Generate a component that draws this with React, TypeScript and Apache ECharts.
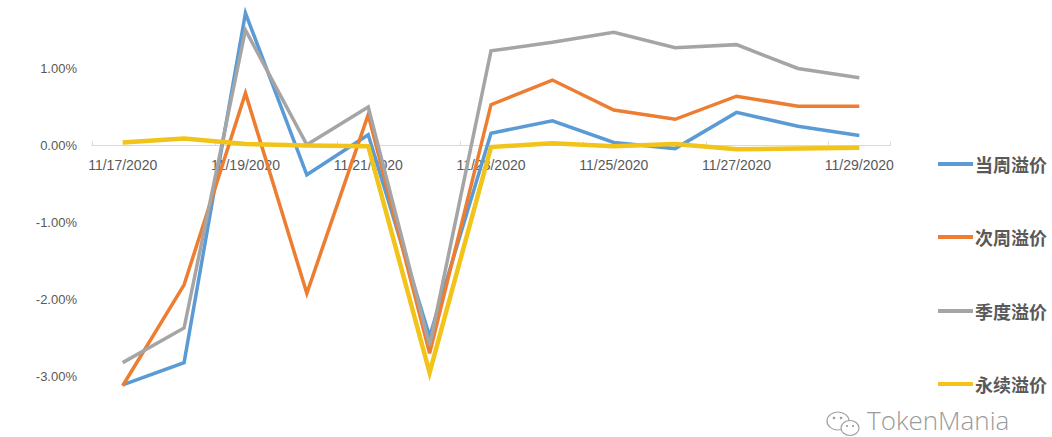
import React, { useEffect, useRef } from "react";
import * as echarts from "echarts";

const categories = [
  "11/17/2020", "11/18/2020", "11/19/2020", "11/20/2020", "11/21/2020", "11/22/2020", "11/23/2020",
  "11/24/2020", "11/25/2020", "11/26/2020", "11/27/2020", "11/28/2020", "11/29/2020",
];
const seriesNames = ["当周溢价", "次周溢价", "季度溢价", "永续溢价"];
const currentWeek = [-3.11, -2.82, 1.72, -0.38, 0.14, -2.48, 0.16, 0.32, 0.04, -0.04, 0.43, 0.25, 0.13];
const nextWeek = [-3.12, -1.81, 0.68, -1.92, 0.40, -2.70, 0.53, 0.85, 0.46, 0.34, 0.64, 0.51, 0.51];
const quarterly = [-2.82, -2.37, 1.50, 0.01, 0.50, -2.60, 1.23, 1.34, 1.47, 1.27, 1.31, 1.00, 0.88];
const perpetual = [0.04, 0.09, 0.02, 0.00, -0.01, -2.95, -0.02, 0.03, -0.01, 0.02, -0.05, -0.04, -0.03];
const colors = ["#5B9BD5", "#ED7D31", "#A5A5A5", "#F2C318"];
const widths = [3.5, 3.5, 3.5, 4.5];

export default function App() {
  const ref = useRef<HTMLDivElement>(null);
  useEffect(() => {
    if (!ref.current) return;
    const chart = echarts.init(ref.current, undefined, { renderer: "svg" });
    const data = [currentWeek, nextWeek, quarterly, perpetual];
    const legendTops = [150, 223, 297, 370];
    const labelFont = "Liberation Sans";
    chart.setOption({
      animation: false,
      backgroundColor: "#ffffff",
      grid: [
        { left: 92, right: 162, top: -8.5, bottom: -16.5, containLabel: false, outerBoundsMode: "none" },
        { left: 92, right: 162, top: 0, height: 145.5, containLabel: false, outerBoundsMode: "none" },
      ],
      xAxis: [
        {
          type: "category",
          gridIndex: 0,
          data: categories,
          boundaryGap: true,
          axisLine: { show: false },
          axisTick: { show: false },
          axisLabel: { show: false },
        },
        {
          type: "category",
          gridIndex: 1,
          data: categories,
          boundaryGap: true,
          position: "bottom",
          axisLine: { onZero: false, lineStyle: { color: "#D9D9D9", width: 1 } },
          axisTick: { show: true, interval: 1, length: 4, inside: true, lineStyle: { color: "#D9D9D9" } },
          axisLabel: {
            interval: 1,
            margin: 12,
            color: "#595959",
            fontSize: 14,
            fontFamily: labelFont,
          },
        },
      ],
      yAxis: [
        {
          type: "value",
          gridIndex: 0,
          min: -4,
          max: 2,
          interval: 1,
          axisLine: { show: false },
          axisTick: { show: false },
          splitLine: { show: false },
          axisLabel: {
            margin: 15,
            color: "#595959",
            fontSize: 13,
            fontFamily: labelFont,
            formatter: (v: number) => (v > 1.5 || v < -3.5 ? "" : v.toFixed(2) + "%"),
          },
        },
        {
          type: "value",
          gridIndex: 1,
          min: 0,
          max: 1,
          show: false,
        },
      ],
      legend: seriesNames.map((n, i) => ({
        data: [n],
        orient: "vertical",
        left: 933,
        top: legendTops[i],
        icon: "rect",
        itemWidth: 35,
        itemHeight: 4,
        itemGap: 0,
        selectedMode: false,
        textStyle: {
          color: "#595959",
          fontSize: 18,
          fontWeight: "bold",
          fontFamily: "Noto Sans CJK SC",
          padding: [0, 0, 0, -3],
        },
      })),
      series: seriesNames.map((n, i) => ({
        name: n,
        type: "line",
        xAxisIndex: 0,
        yAxisIndex: 0,
        data: data[i],
        symbol: "none",
        color: colors[i],
        lineStyle: { color: colors[i], width: widths[i], join: "miter" },
      })),
      graphic: [
        {
          type: "text",
          left: 867,
          top: 407,
          style: {
            text: "TokenMania",
            fill: "#9a9a9a",
            font: "300 26px 'Open Sans'",
          },
        },
        {
          type: "ellipse",
          shape: { cx: 838, cy: 421, rx: 11, ry: 9 },
          style: { fill: "none", stroke: "#a0a0a0", lineWidth: 1.2 },
        },
        {
          type: "ellipse",
          shape: { cx: 850, cy: 428, rx: 9, ry: 7.5 },
          style: { fill: "#ffffff", stroke: "#a0a0a0", lineWidth: 1.2 },
        },
        { type: "circle", shape: { cx: 834, cy: 418, r: 1.3 }, style: { fill: "#a0a0a0" } },
        { type: "circle", shape: { cx: 841, cy: 418, r: 1.3 }, style: { fill: "#a0a0a0" } },
        { type: "circle", shape: { cx: 847, cy: 426, r: 1.1 }, style: { fill: "#a0a0a0" } },
        { type: "circle", shape: { cx: 853, cy: 426, r: 1.1 }, style: { fill: "#a0a0a0" } },
      ],
    });
    return () => chart.dispose();
  }, []);
  return (
    <div
      ref={ref}
      style={{ position: "absolute", left: 0, top: 0, width: 1052, height: 437, background: "#fff" }}
    />
  );
}
